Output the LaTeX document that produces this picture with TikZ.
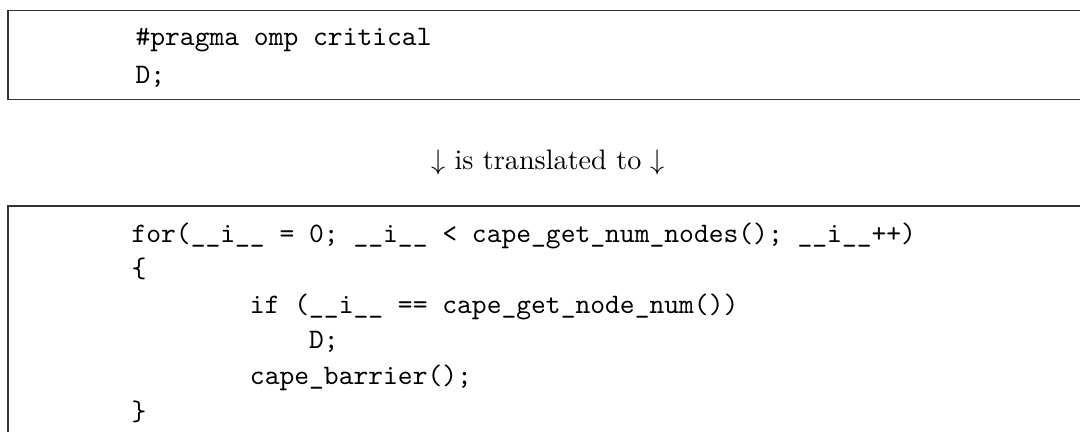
\documentclass[tikz,border=0pt]{standalone}
\usepackage{fontspec}
\begin{document}
\frenchspacing
\begin{tikzpicture}[x=0.3547pt,y=-0.3547pt,
  codebox/.style={draw=black!80,line width=0.5pt},
  code/.style={anchor=base west,inner sep=0pt,font=\ttfamily\fontsize{10pt}{12pt}\selectfont},
  caption/.style={anchor=base,inner sep=0pt,font=\fontsize{10pt}{12pt}\selectfont}]
\useasboundingbox (0,0) rectangle (1080,432);
\clip (0,0) rectangle (1080,432);

% original directive
\draw[codebox] (8,10.5) rectangle (1100,99.5);
\node[code] (p1) at (135,45.5) {\#pragma omp critical};
\node[code] (p2) at (135,83) {D;};

% caption between the two listings
\node[caption] (tr) at (548,169) {$\downarrow$ is translated to $\downarrow$};

% translated code
\draw[codebox] (8,206) rectangle (1100,460);
\node[code] (c1) at (131,242) {for(\_\_i\_\_ = 0; \_\_i\_\_ < cape\_get\_num\_nodes(); \_\_i\_\_++)};
\node[code] (c2) at (131,277.6) {\{};
\node[code] (c3) at (249.4,313.2) {if (\_\_i\_\_ == cape\_get\_node\_num())};
\node[code] (c4) at (308.6,348.8) {D;};
\node[code] (c5) at (249.4,384.4) {cape\_barrier();};
\node[code] (c6) at (131,420) {\}};
\end{tikzpicture}
\end{document}
